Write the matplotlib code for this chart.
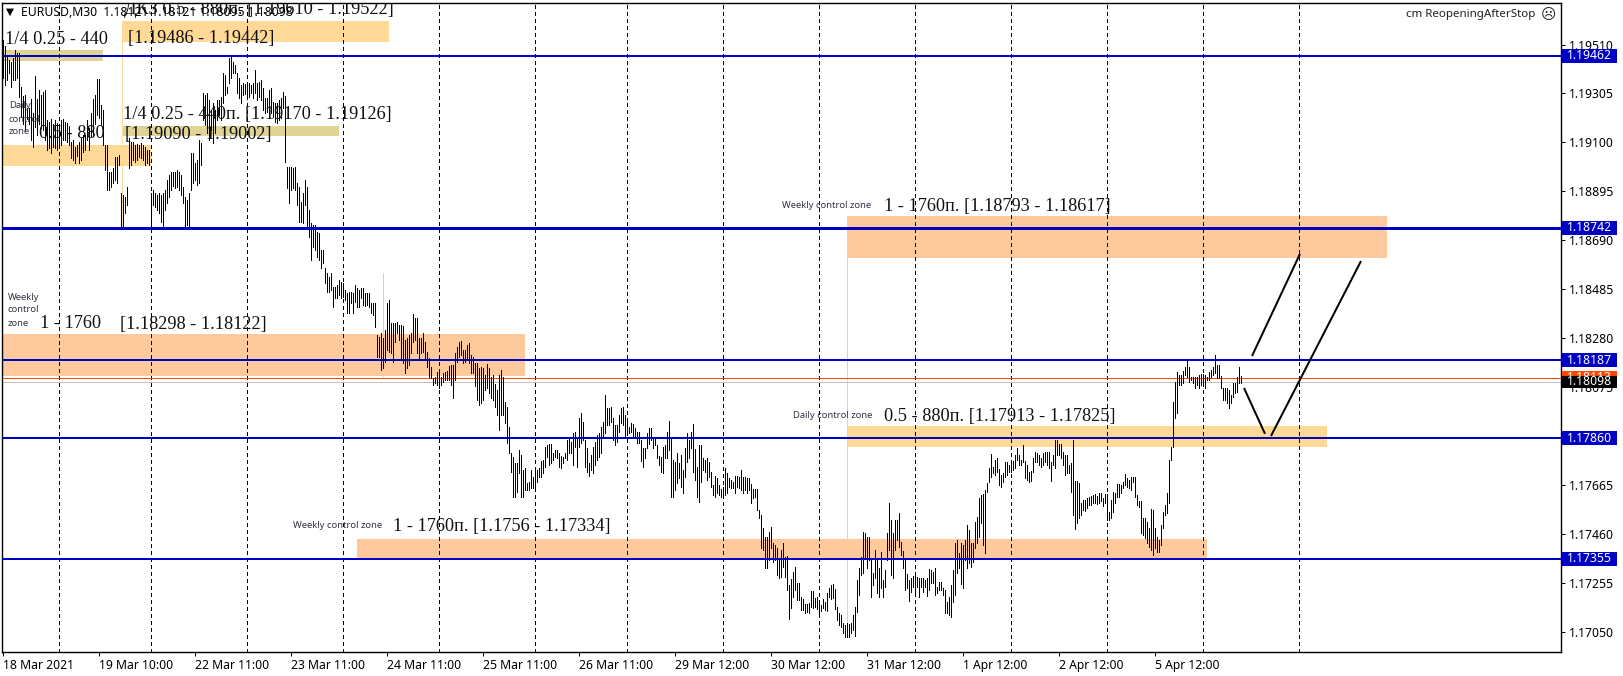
import numpy as np
import matplotlib
matplotlib.use('Agg')
import matplotlib.pyplot as plt
from matplotlib.patches import Rectangle
from matplotlib.transforms import blended_transform_factory

# EURUSD M30, prices in points (1e-5). Each bar = 2 px
high_18mar = [119530,119505,119465,119445,119435,119455,119485,119475,119475,119330,119295,119300,
              119245,119245,119280,119225,119380,119280,119320,119300,119310,119320,119195,119185,
              119200,119175,119195,119180,119175,119195,119200,119185,119180,119170,119100,119110,
              119080,119090,119100,119120,119130,119130,119195,119160,119225,119280,119300,119365]
low_18mar = [119370,119340,119360,119390,119330,119360,119360,119370,119290,119205,119175,119150,
             119200,119175,119110,119080,119165,119130,119175,119160,119150,119110,119070,119075,
             119055,119080,119075,119070,119090,119090,119110,119110,119100,119090,119035,119025,
             119015,119045,119015,119025,119060,119070,119110,119070,119125,119130,119175,119215]

high_19mar = [119366,119257,119236,119089,119089,118976,118976,118993,119039,119039,119047,118888,
              118880,118871,118913,119118,119102,119102,119089,119093,119089,119098,119089,119081,
              119068,119068,118888,118901,118888,118880,118888,118880,118888,118901,118943,118963,
              118976,118976,118976,118984,118976,118963,118913,118871,118859,118888,119056,119056]
low_19mar = [119203,119173,119089,118984,118901,118901,118913,118930,118943,118930,119005,118746,
             118746,118804,118838,118993,119005,119026,119018,119026,119039,119035,119026,119005,
             119014,119005,118746,118838,118829,118817,118804,118767,118746,118817,118846,118871,
             118901,118917,118909,118913,118901,118880,118846,118746,118754,118746,118901,118930]

high_22mar = [119014,119026,119110,119098,119307,119299,119307,119278,119236,119265,119236,119278,
              119278,119290,119391,119382,119332,119454,119458,119437,119424,119391,119370,119340,
              119349,119345,119340,119349,119340,119349,119403,119349,119353,119361,119328,119286,
              119286,119320,119328,119269,119265,119265,119278,119286,119311,119294,118997,118997]
low_22mar = [118943,118922,118930,119005,119194,119173,119139,119110,119152,119098,119139,119194,
             119215,119194,119265,119299,119307,119349,119370,119391,119391,119307,119286,119265,
             119299,119303,119299,119290,119307,119286,119307,119278,119290,119278,119236,119223,
             119227,119236,119223,119206,119186,119181,119194,119202,119244,119018,118909,118846]

high_23mar = [118997,118993,118997,118930,118913,118851,118888,118943,118913,118817,118763,118754,
              118754,118725,118721,118649,118649,118574,118553,118536,118553,118494,118494,118503,
              118524,118515,118511,118482,118469,118474,118474,118469,118503,118490,118482,118490,
              118490,118469,118469,118469,118427,118427,118427,118293,118285,118302,118281,118314]
low_23mar = [118901,118909,118901,118838,118767,118767,118763,118838,118746,118704,118607,118662,
             118649,118620,118607,118574,118595,118511,118474,118474,118482,118411,118448,118448,
             118461,118448,118453,118440,118386,118386,118427,118386,118432,118411,118411,118448,
             118419,118415,118419,118411,118386,118377,118327,118201,118201,118147,118155,118180]

high_24mar = [118427,118440,118344,118344,118344,118348,118335,118335,118331,118272,118281,118293,
              118302,118381,118365,118365,118281,118281,118302,118264,118222,118197,118159,118113,
              118117,118138,118147,118117,118134,118138,118143,118164,118168,118168,118218,118243,
              118264,118268,118230,118230,118252,118260,118210,118201,118176,118176,118155,118159]
low_24mar = [118230,118222,118218,118180,118264,118302,118272,118189,118176,118134,118155,118168,
             118218,118264,118272,118218,118197,118218,118222,118197,118159,118117,118113,118084,
             118092,118084,118071,118084,118097,118105,118105,118105,118084,118029,118105,118180,
             118201,118210,118176,118180,118189,118176,118134,118134,118080,118021,118000,118009]

high_25mar = [118155,118126,118172,118155,118117,118126,118088,118063,118126,118147,118117,118013,
              117992,117908,117799,117782,117757,117757,117812,117791,117728,117736,117673,117678,
              117728,117699,117728,117728,117736,117766,117770,117824,117833,117837,117837,117799,
              117812,117812,117799,117787,117782,117799,117853,117862,117845,117883,117887,117866]
low_25mar = [118021,118063,118071,118050,118029,118021,117992,117958,117895,117958,117958,117925,
             117841,117799,117719,117615,117615,117636,117715,117615,117615,117644,117644,117644,
             117652,117652,117644,117678,117699,117699,117715,117740,117782,117749,117757,117770,
             117782,117778,117740,117736,117757,117778,117770,117799,117799,117749,117824,117740]

high_26mar = [117946,117967,117929,117853,117820,117757,117791,117824,117845,117874,117883,117908,
              117929,118042,117988,117988,117992,117946,117916,117916,117958,117988,117992,117958,
              117929,117908,117925,117921,117904,117887,117887,117853,117820,117820,117883,117904,
              117904,117866,117866,117833,117787,117782,117824,117833,117887,117933,117866,117770]
low_26mar = [117824,117841,117853,117740,117719,117703,117728,117715,117749,117770,117782,117799,
             117866,117883,117916,117916,117929,117853,117833,117845,117887,117925,117916,117866,
             117887,117883,117887,117866,117862,117841,117841,117766,117740,117778,117820,117837,
             117853,117820,117833,117778,117749,117719,117715,117778,117778,117812,117615,117615]

high_29mar = [117761,117799,117757,117791,117728,117820,117883,117853,117887,117921,117816,117740,
              117833,117833,117778,117770,117778,117761,117719,117665,117703,117694,117665,117648,
              117657,117736,117715,117694,117686,117678,117703,117703,117699,117728,117699,117699,
              117694,117694,117669,117648,117648,117648,117560,117539,117485,117447,117447,117468]
low_29mar = [117644,117673,117694,117657,117632,117699,117761,117778,117820,117719,117686,117615,
             117594,117678,117728,117719,117686,117699,117657,117623,117615,117632,117623,117615,
             117615,117623,117632,117657,117652,117652,117632,117657,117652,117644,117632,117644,
             117632,117644,117590,117611,117615,117560,117527,117401,117393,117317,117317,117351]

high_30mar = [117489,117422,117414,117401,117351,117393,117422,117363,117368,117246,117271,117300,
              117321,117254,117254,117196,117187,117167,117167,117171,117221,117221,117192,117196,
              117183,117162,117187,117175,117213,117234,117246,117250,117229,117154,117129,117120,
              117087,117078,117087,117083,117087,117120,117154,117267,117317,117363,117468,117464]
low_30mar = [117401,117342,117351,117288,117275,117279,117321,117279,117225,117104,117150,117196,
             117225,117183,117183,117141,117141,117129,117133,117129,117154,117150,117154,117146,
             117112,117137,117150,117141,117137,117196,117187,117192,117146,117099,117078,117070,
             117045,117028,117028,117028,117045,117057,117032,117133,117204,117288,117296,117359]

high_31mar = [117447,117447,117359,117296,117393,117351,117317,117384,117267,117309,117464,117590,
              117518,117464,117518,117518,117548,117426,117389,117351,117292,117267,117275,117284,
              117296,117279,117275,117275,117275,117267,117275,117313,117309,117300,117317,117238,
              117259,117259,117234,117225,117175,117196,117246,117309,117422,117434,117380,117422]
low_31mar = [117317,117351,117196,117246,117275,117213,117196,117234,117196,117238,117351,117393,
             117288,117275,117393,117434,117405,117372,117317,117225,117234,117179,117217,117238,
             117213,117238,117196,117238,117217,117238,117200,117225,117254,117254,117204,117213,
             117225,117225,117204,117129,117129,117120,117112,117175,117204,117296,117317,117250]

high_1apr = [117414,117434,117497,117476,117422,117422,117510,117531,117611,117623,117627,117644,
             117673,117736,117795,117740,117770,117778,117732,117707,117715,117761,117761,117749,
             117757,117766,117791,117820,117791,117770,117833,117766,117749,117719,117724,117778,
             117803,117799,117791,117778,117799,117803,117803,117803,117761,117791,117853,117853]
low_1apr = [117234,117351,117317,117338,117321,117342,117401,117422,117447,117506,117414,117380,
            117636,117678,117699,117715,117707,117719,117665,117657,117678,117699,117707,117719,
            117719,117728,117736,117770,117749,117749,117761,117694,117686,117678,117682,117719,
            117761,117761,117749,117740,117749,117761,117749,117736,117682,117749,117736,117791]

high_2apr = [117837,117837,117803,117791,117791,117749,117757,117853,117682,117682,117673,117590,
             117602,117602,117611,117615,117619,117623,117627,117619,117632,117632,117611,117627,
             117627,117552,117602,117636,117632,117669,117669,117665,117678,117711,117694,117686,
             117699,117699,117699,117623,117598,117598,117527,117527,117510,117485,117565,117560]
low_2apr = [117791,117778,117749,117707,117715,117715,117636,117539,117481,117506,117527,117539,
            117560,117556,117569,117581,117581,117590,117590,117585,117590,117598,117577,117590,
            117518,117518,117527,117552,117590,117615,117615,117632,117652,117665,117657,117652,
            117644,117678,117615,117581,117573,117464,117456,117443,117422,117405,117393,117372]

high_5apr = [117485,117447,117434,117497,117552,117581,117632,117770,117824,118013,118097,118138,
             118126,118126,118143,118159,118185,118159,118117,118117,118117,118117,118126,118130,
             118130,118126,118117,118138,118147,118159,118210,118168,118168,118122,118071,118071,
             118071,118063,118042,118092,118092,118117,118159,118122]
low_5apr = [117401,117384,117384,117414,117485,117539,117548,117590,117770,117824,117946,117967,
            118084,118084,118092,118126,118117,118097,118105,118092,118071,118084,118071,118084,
            118097,118071,118105,118105,118117,118126,118134,118113,118113,118071,118021,118021,
            118009,117988,118009,118034,118050,118055,118092,118092]

tick_labels = ['18 Mar 2021', '19 Mar 10:00', '22 Mar 11:00', '23 Mar 11:00', '24 Mar 11:00',
               '25 Mar 11:00', '26 Mar 11:00', '29 Mar 12:00', '30 Mar 12:00', '31 Mar 12:00',
               '1 Apr 12:00', '2 Apr 12:00', '5 Apr 12:00']
price_ticks = [1.19510, 1.19305, 1.19100, 1.18895, 1.18690, 1.18485, 1.18280,
               1.18075, 1.17870, 1.17665, 1.17460, 1.17255, 1.17050]
separators = [28, 74, 122, 170, 218, 266, 312, 360, 408, 456, 504, 552, 600, 648]  # bar index
levels = [1.19462, 1.18742, 1.18187, 1.17860, 1.17355]
ask_price = 1.18113
bid_price = 1.18098

# start bar, end bar, top, bottom, colour
ORANGE, YELLOW, KHAKI = '#FFC99E', '#FFD995', '#DFD395'
zones = [(59.5, 193, 1.19610, 1.19522, YELLOW),
         (0, 50, 1.19486, 1.19442, KHAKI),
         (0, 74, 1.19090, 1.19002, YELLOW),
         (59.5, 168, 1.19170, 1.19126, KHAKI),
         (0, 261, 1.18298, 1.18122, ORANGE),
         (422, 692, 1.18793, 1.18617, ORANGE),
         (422, 662, 1.17913, 1.17825, YELLOW),
         (177, 602, 1.17440, 1.17350, ORANGE)]
# thin stems under the zones: bar, top, bottom, colour
stems = [(59.5, 1.19522, 1.18742, YELLOW),
         (190, 1.18553, 1.18122, KHAKI),
         (422, 1.18617, 1.17030, ORANGE)]
# hand drawn path: bars, prices
path_up = ([624.5, 648.5], [1.18205, 1.18633])
path_down = ([620.5, 631], [1.18071, 1.17879])
path_up2 = ([634, 679], [1.17870, 1.18603])

W, H = 1624, 676
L, R, T, B = 2.5, 1561, 2.5, 652
plt.rcParams['font.family'] = ['Noto Sans', 'DejaVu Sans']
BIG_FONT = 'Liberation Serif'

fig = plt.figure(figsize=(W / 100, H / 100), dpi=100)
ax = fig.add_axes([L / W, 1 - B / H, (R - L) / W, (B - T) / H])

px = 0.72  # one pixel in points

days = [(high_18mar, low_18mar), (high_19mar, low_19mar), (high_22mar, low_22mar),
        (high_23mar, low_23mar), (high_24mar, low_24mar), (high_25mar, low_25mar),
        (high_26mar, low_26mar), (high_29mar, low_29mar), (high_30mar, low_30mar),
        (high_31mar, low_31mar), (high_1apr, low_1apr), (high_2apr, low_2apr),
        (high_5apr, low_5apr)]
high = np.concatenate([np.array(d[0]) for d in days]) / 1e5
low = np.concatenate([np.array(d[1]) for d in days]) / 1e5
bars = np.arange(len(high))

for x0, x1, top, bottom, c in zones:
    ax.add_patch(Rectangle((x0, bottom), x1 - x0, top - bottom, fc=c, ec='none', zorder=1))
for x, top, bottom, c in stems:
    ax.plot([x, x], [top, bottom], color=c, lw=px, zorder=1.5)

ax.vlines(separators, 0, 1, transform=ax.get_xaxis_transform(), color='black',
          lw=px, linestyles=(0, (3, 3)), zorder=2, antialiased=False)
ax.vlines(bars, low, high, color='black', lw=px, zorder=3, antialiased=False)

for lev in levels:
    ax.axhline(lev, color='#0000C4', lw=px * (3 if lev == 1.18742 else 2), zorder=4)
ax.axhline(ask_price, color='#FF4500', lw=px, zorder=2.5)
ax.axhline(bid_price, color='#C0C0C0', lw=px, zorder=2.5)

for xs, ys in (path_up, path_down, path_up2):
    ax.plot(xs, ys, color='black', lw=px * 2, zorder=4, solid_capstyle='butt')

ax.set_xlim((L - 3) / 2, (R - 3) / 2)
ax.set_ylim(1.16965, 1.19686)

ax.set_xticks(np.arange(len(tick_labels)) * 48)
ax.set_xticklabels(tick_labels, ha='left', fontsize=8.8)
ax.set_yticks(price_ticks)
ax.set_yticklabels(['%.5f' % p for p in price_ticks], fontsize=8.8)
ax.yaxis.tick_right()
ax.tick_params(axis='x', length=3, width=px, pad=2)
ax.tick_params(axis='y', length=3, width=px, pad=2.5)
for s in ax.spines.values():
    s.set_linewidth(px * 1.4)


def note(x, y, s, size=13.15, color='#101010', family=BIG_FONT):
    ax.text((x - L) / (R - L), 1 - (y - T) / (B - T), s, transform=ax.transAxes,
            fontsize=size, color=color, va='center', ha='left', clip_on=True, zorder=6,
            family=family)


def small(x, y, s):
    note(x, y, s, size=6.8, color='#333344', family='Noto Sans')


# labels of the zones
note(124, 9, 'ДКЗ 0.5 - 880п. [1.19610 - 1.19522]')
note(5, 39, '1/4 0.25 - 440')
note(128, 39, '[1.19486 - 1.19442]')
note(123, 114, '1/4 0.25 - 440п. [1.19170 - 1.19126]')
note(125, 134, '[1.19090 - 1.19002]')
note(39, 134, '0.5 - 880')
for y, s in zip((106, 119, 132), ('Daily', 'control', 'zone')):
    small(9, y, s)
for y, s in zip((297, 310, 323), ('Weekly', 'control', 'zone')):
    small(8, y, s)
note(40, 324, '1 - 1760')
note(120, 324, '[1.18298 - 1.18122]')
small(782, 205, 'Weekly control zone')
note(884, 206, '1 - 1760п. [1.18793 - 1.18617]')
small(793, 415, 'Daily control zone')
note(884, 416, '0.5 - 880п. [1.17913 - 1.17825]')
small(293, 525, 'Weekly control zone')
note(393, 526, '1 - 1760п. [1.1756 - 1.17334]')

# chart header
note(6, 12, '\u25BC', size=7.5, color='black', family='DejaVu Sans')
note(21, 12, 'EURUSD,M30  1.18121 1.18121 1.18095 1.18098', size=8.8, color='black', family='Noto Sans')
note(1406, 14, 'cm ReopeningAfterStop', size=8.3, color='#202020', family='Noto Sans')
note(1541, 14, '\u2639', size=10.5, color='#202020', family='DejaVu Sans')

# price tags on the right axis
trans = blended_transform_factory(ax.transAxes, ax.transData)
tag_x = (1562 - L) / (R - L)
tag_w = 55 / (R - L)
text_x = (1567 - L) / (R - L)


def tag(price, c, half=0.00029, z=7):
    ax.add_patch(Rectangle((tag_x, price - half), tag_w, 2 * half, fc=c, ec='none',
                           transform=trans, clip_on=False, zorder=z))
    ax.text(text_x, price, '%.5f' % price, transform=trans, color='white', fontsize=8.8,
            va='center', ha='left', clip_on=False, zorder=z + 0.5)


for lev in levels:
    tag(lev, '#0000C4')
tag(ask_price, '#FF4500')
tag(bid_price, 'black', half=0.00025, z=8)

fig.savefig('out.png', dpi=100, facecolor='white')
